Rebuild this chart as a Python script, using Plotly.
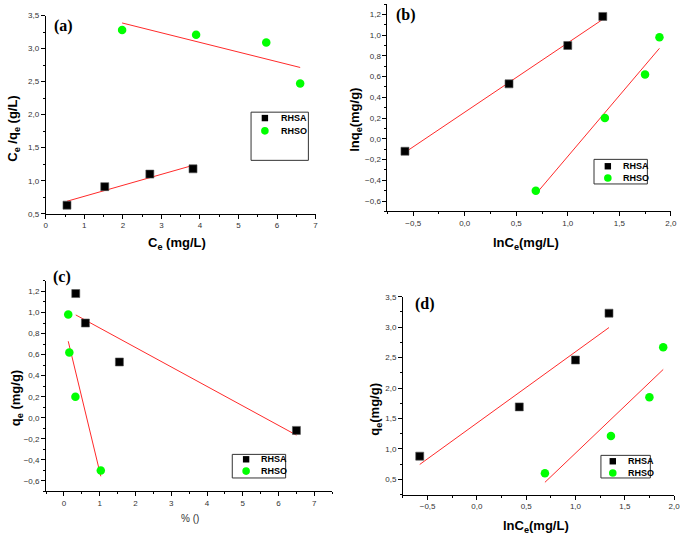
import numpy as np
import plotly.graph_objects as go

# ---------------- data ----------------
series_names = ["RHSA", "RHSO"]
panel_labels = ["(a)", "(b)", "(c)", "(d)"]

# (a) Ce vs Ce/qe
a_rhsa_x = [0.55, 1.53, 2.70, 3.82]
a_rhsa_y = [0.63, 0.91, 1.10, 1.18]
a_rhso_x = [1.98, 3.90, 5.72, 6.60]
a_rhso_y = [3.28, 3.21, 3.09, 2.47]

# (b) lnCe vs lnqe
b_rhsa_x = [-0.58, 0.43, 1.00, 1.34]
b_rhsa_y = [-0.12, 0.53, 0.90, 1.18]
b_rhso_x = [0.69, 1.36, 1.75, 1.89]
b_rhso_y = [-0.50, 0.20, 0.62, 0.98]

# (c) % vs qe
c_rhsa_x = [0.33, 0.60, 1.55, 6.50]
c_rhsa_y = [1.18, 0.90, 0.53, -0.12]
c_rhso_x = [0.12, 0.15, 0.32, 1.03]
c_rhso_y = [0.98, 0.62, 0.20, -0.50]

# (d) lnCe vs qe
d_rhsa_x = [-0.58, 0.43, 1.00, 1.34]
d_rhsa_y = [0.88, 1.69, 2.46, 3.23]
d_rhso_x = [0.69, 1.36, 1.75, 1.89]
d_rhso_y = [0.60, 1.21, 1.85, 2.67]

# ---------------- layout helpers ----------------
W, H = 685, 541
def px(x):
    return x / W
def py(y):
    return 1 - y / H

SANS = "Liberation Sans, Arial, sans-serif"
SERIF = "Liberation Serif, Times New Roman, serif"
SQ_COLOR = "#000000"
CI_COLOR = "#00ff00"
FIT_COLOR = "#ff2a2a"

panels = [
    dict(rhsa=(a_rhsa_x, a_rhsa_y), rhso=(a_rhso_x, a_rhso_y),
         xdom=(44.3, 317.3), ydom=(11.7, 213.3), xr=[0, 7], yr=[0.5, 3.5],
         xd=1, xt0=0, xfmt="d", yd=0.5, yt0=0, yfmt=".1f"),
    dict(rhsa=(b_rhsa_x, b_rhsa_y), rhso=(b_rhso_x, b_rhso_y),
         xdom=(390.0, 676.7), ydom=(0.0, 210.9), xr=[-0.75, 2.0], yr=[-0.7, 1.3],
         xd=0.5, xt0=0, xfmt=".1f", yd=0.2, yt0=0, yfmt=".1f"),
    dict(rhsa=(c_rhsa_x, c_rhsa_y), rhso=(c_rhso_x, c_rhso_y),
         xdom=(44.6, 334.1), ydom=(281.6, 495.7), xr=[-0.5, 7.5], yr=[-0.7, 1.3],
         xd=1, xt0=0, xfmt="d", yd=0.2, yt0=0, yfmt=".1f"),
    dict(rhsa=(d_rhsa_x, d_rhsa_y), rhso=(d_rhso_x, d_rhso_y),
         xdom=(405.7, 680.0), ydom=(297.7, 498.8), xr=[-0.75, 2.0], yr=[0.25, 3.5],
         xd=0.5, xt0=0, xfmt=".1f", yd=0.5, yt0=0, yfmt=".1f"),
]

fig = go.Figure()
layout = {}

for i, p in enumerate(panels):
    n = "" if i == 0 else str(i + 1)
    xa, ya = "x" + n, "y" + n
    # fit lines (least squares on the data)
    for (xs, ys) in (p["rhsa"], p["rhso"]):
        k, b = np.polyfit(xs, ys, 1)
        xl = np.array([min(xs), max(xs)])
        fig.add_trace(go.Scatter(x=xl, y=k * xl + b, mode="lines",
                                 line=dict(color=FIT_COLOR, width=1),
                                 xaxis=xa, yaxis=ya, showlegend=False,
                                 hoverinfo="skip"))
    fig.add_trace(go.Scatter(x=p["rhsa"][0], y=p["rhsa"][1], mode="markers",
                             name=series_names[0],
                             marker=dict(symbol="square", size=8, color=SQ_COLOR,
                                         line=dict(width=0.6, color="#555")),
                             xaxis=xa, yaxis=ya, showlegend=False))
    fig.add_trace(go.Scatter(x=p["rhso"][0], y=p["rhso"][1], mode="markers",
                             name=series_names[1],
                             marker=dict(symbol="circle", size=8.5, color=CI_COLOR,
                                         line=dict(width=0)),
                             xaxis=xa, yaxis=ya, showlegend=False))
    common = dict(showline=True, linecolor="black", linewidth=1, mirror=False,
                  showgrid=False, zeroline=False, ticks="outside", ticklen=4,
                  tickwidth=1, tickcolor="black", ticklabeloverflow="allow",
                  tickfont=dict(family=SANS, size=8, color="#333"),
                  minor=dict(ticks="outside", ticklen=2, tickcolor="black",
                             tickwidth=1, showgrid=False))
    xax = dict(common, domain=[px(p["xdom"][0]), px(p["xdom"][1])], range=p["xr"],
               tickmode="linear", tick0=p["xt0"], dtick=p["xd"],
               tickformat=p["xfmt"], anchor=ya)
    xax["minor"] = dict(common["minor"], dtick=p["xd"] / 2, tick0=p["xt0"])
    yax = dict(common, domain=[py(p["ydom"][1]), py(p["ydom"][0])], range=p["yr"],
               tickmode="linear", tick0=p["yt0"], dtick=p["yd"],
               tickformat=p["yfmt"], anchor=xa)
    yax["minor"] = dict(common["minor"], dtick=p["yd"] / 2, tick0=p["yt0"])
    layout["xaxis" + n] = xax
    layout["yaxis" + n] = yax

annotations = []
def ann(text, x, y, size=13, bold=True, angle=0, family=SANS, xanchor="center",
        color="black"):
    annotations.append(dict(text=("<b>%s</b>" % text) if bold else text,
                            x=px(x), y=py(y), xref="paper", yref="paper",
                            showarrow=False, textangle=angle, xanchor=xanchor,
                            yanchor="middle",
                            font=dict(family=family, size=size, color=color)))

# axis titles
ann("C<sub>e</sub> (mg/L)", 177, 244)
ann("C<sub>e</sub> /q<sub>e</sub> (g/L)", 12, 127, angle=-90)
ann("lnC<sub>e</sub>(mg/L)", 530, 244)
ann("lnq<sub>e</sub>(mg/g)", 357, 118, angle=-90)
ann("% ()", 190, 523, size=10, bold=False, color="#333")
ann("q<sub>e</sub> (mg/g)", 15, 401, angle=-90)
ann("lnC<sub>e</sub>(mg/L)", 540, 531)
ann("q<sub>e</sub>(mg/g)", 378, 412, angle=-90)

# panel labels
label_pos = [(62, 22), (409, 11), (61, 278), (428, 305)]
for lab, (lx, ly) in zip(panel_labels, label_pos):
    ann(lab, lx, ly, size=16, family=SERIF)

# legends (drawn as boxes, marker swatches and text)
shapes = []
legends = [
    dict(box=(252, 110, 310, 159), mx=266, my=(116, 129), tx=280),
    dict(box=(599, 158, 653, 183), mx=613, my=(165, 177), tx=626),
    dict(box=(233, 458, 287, 482), mx=247, my=(463, 475), tx=260),
    dict(box=(606, 459, 656, 482), mx=618, my=(465, 477), tx=631),
]
for lg in legends:
    x0, y0, x1, y1 = lg["box"]
    shapes.append(dict(type="rect", xref="paper", yref="paper",
                       x0=px(x0), x1=px(x1), y0=py(y1), y1=py(y0),
                       line=dict(color="#333", width=1), fillcolor="rgba(0,0,0,0)"))
    for j, (kind, col) in enumerate((("rect", SQ_COLOR), ("circle", CI_COLOR))):
        r = 3.2 if kind == "rect" else 3.8
        shapes.append(dict(type=kind, xref="paper", yref="paper",
                           xsizemode="pixel", ysizemode="pixel",
                           xanchor=px(lg["mx"]), yanchor=py(lg["my"][j]),
                           x0=-r, x1=r, y0=-r, y1=r,
                           fillcolor=col, line=dict(width=0)))
        ann(series_names[j], lg["tx"], lg["my"][j], size=9, xanchor="left")

layout.update(dict(width=W, height=H, margin=dict(l=0, r=0, t=0, b=0),
                   paper_bgcolor="white", plot_bgcolor="white",
                   separators=", ", showlegend=False,
                   annotations=annotations, shapes=shapes))
fig.update_layout(**layout)
fig.write_html("out.html", config={"displayModeBar": False},
               post_script="document.body.style.margin='0';"
                           "document.body.style.overflow='hidden';")
